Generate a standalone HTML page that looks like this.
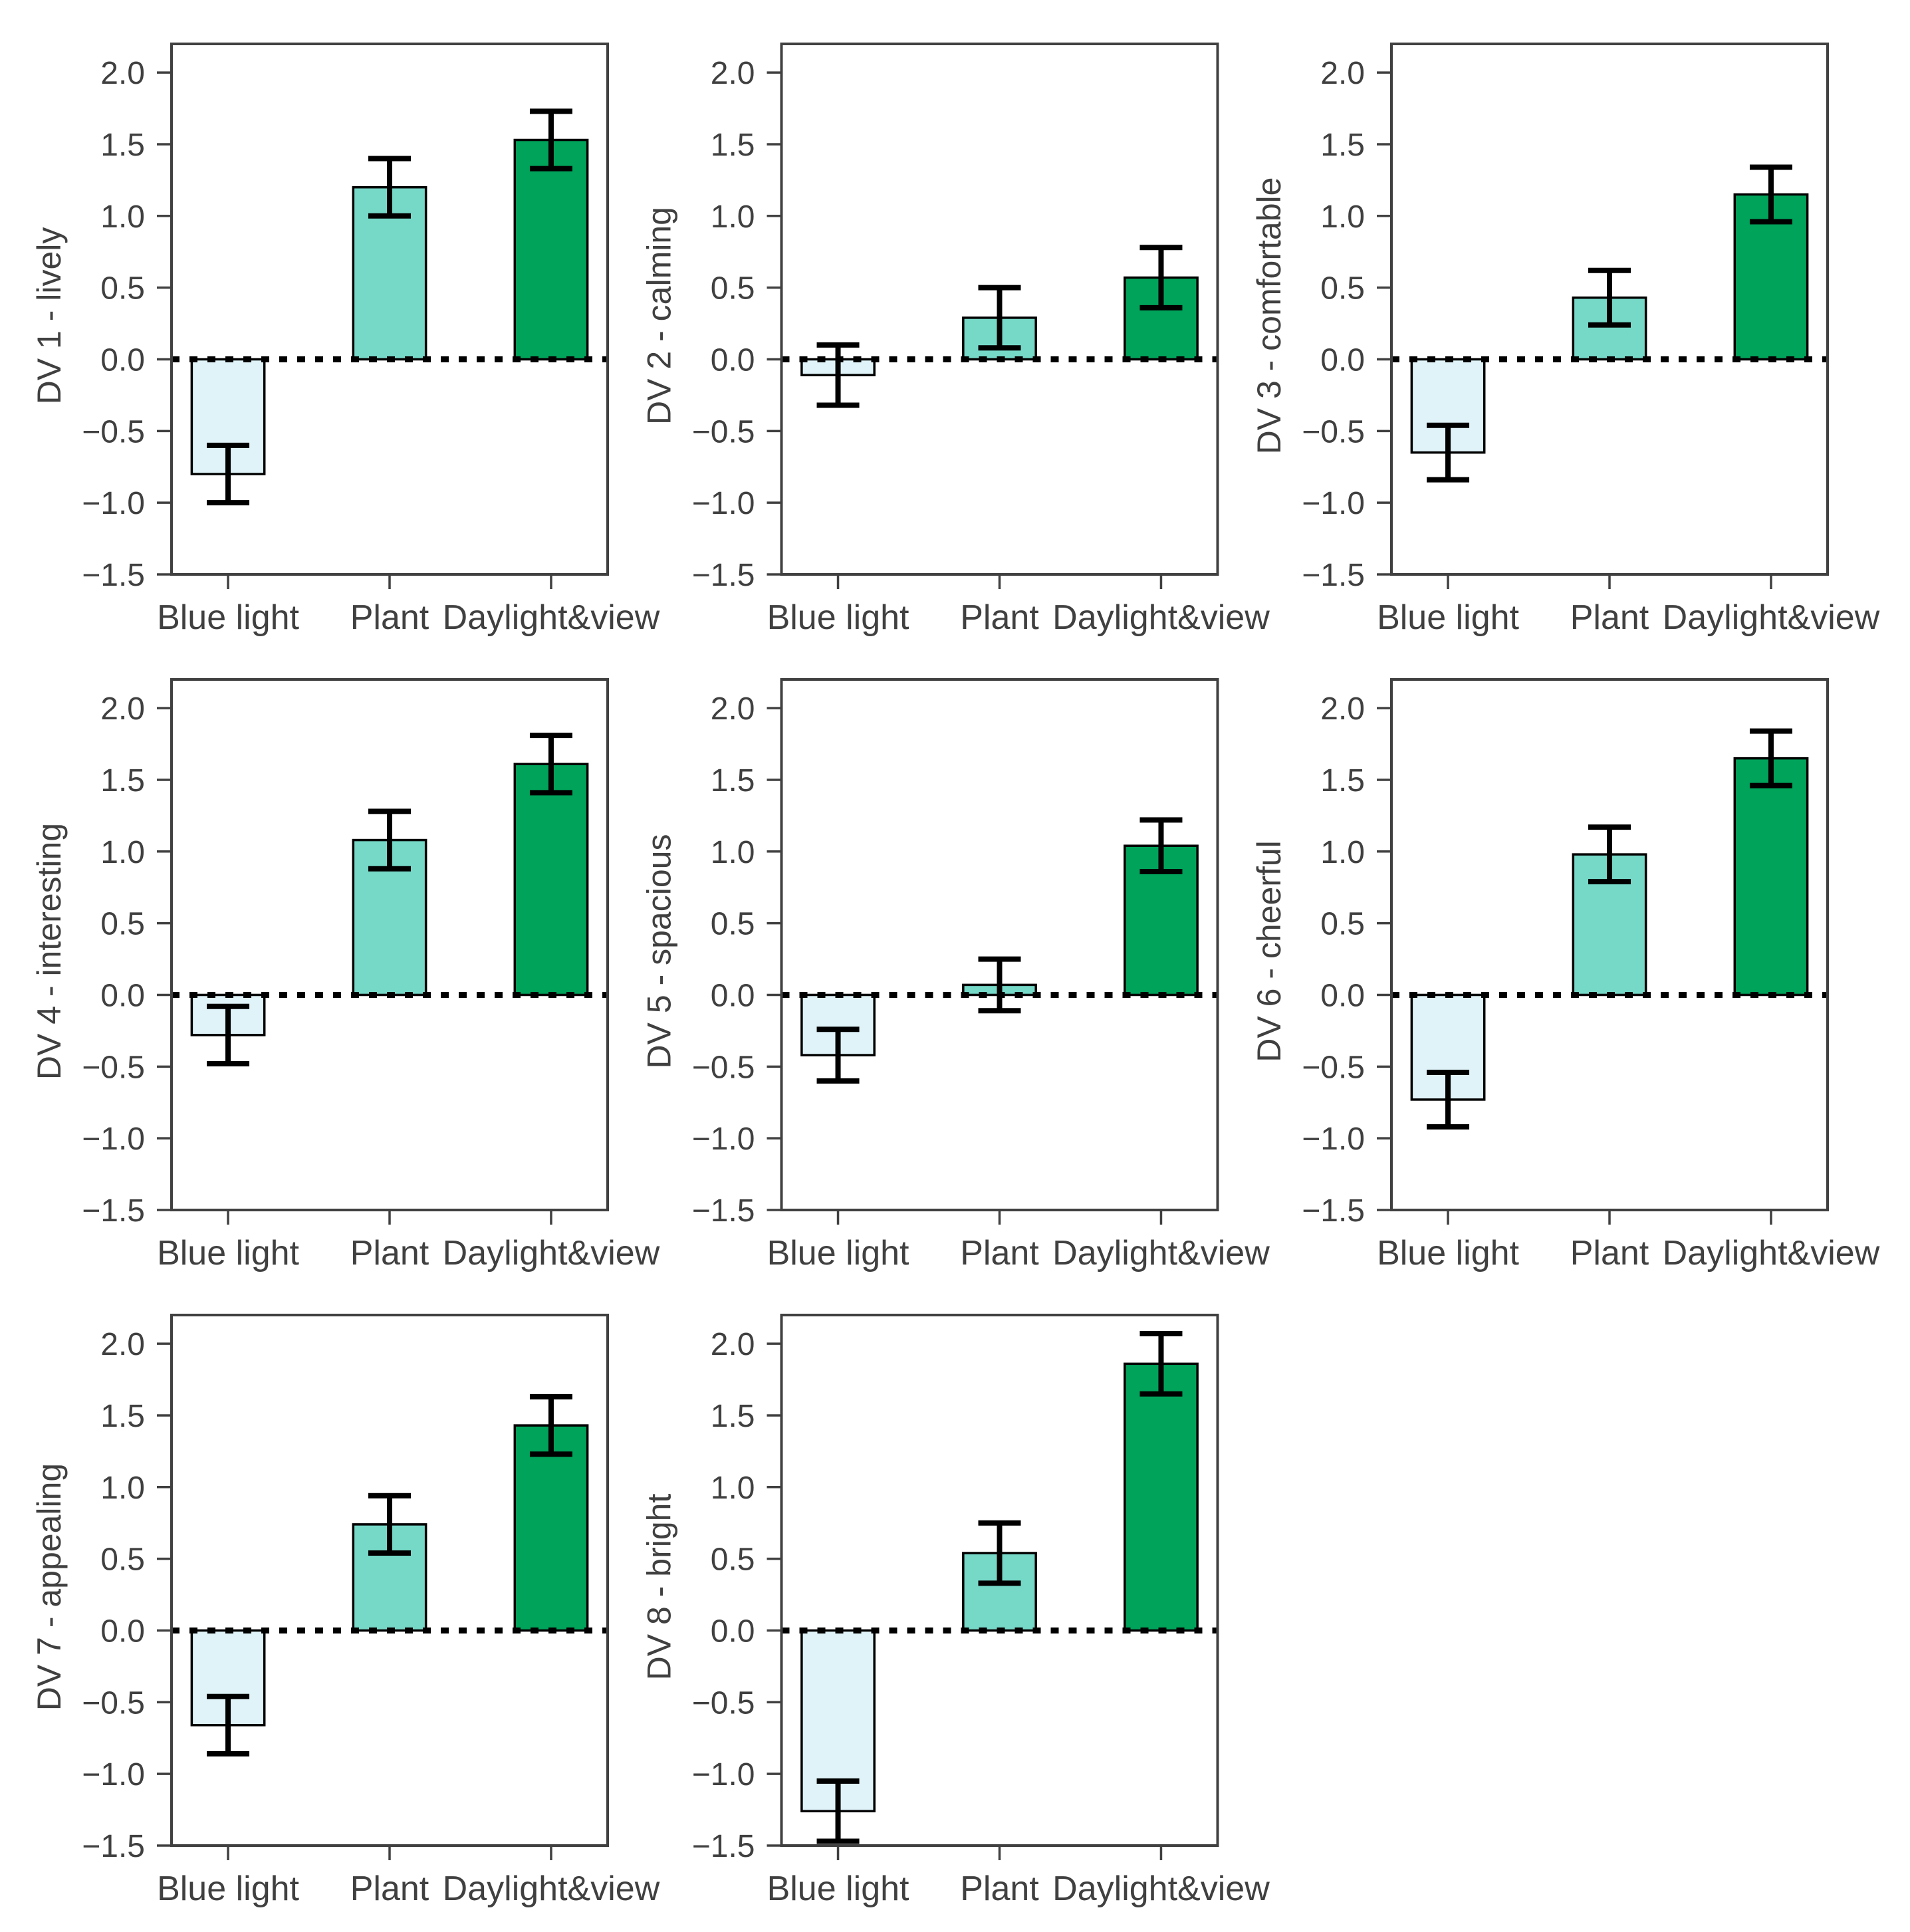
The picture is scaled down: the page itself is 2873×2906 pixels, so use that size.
<!DOCTYPE html>
<html><head><meta charset="utf-8"><style>
html,body{margin:0;padding:0;background:#fff;}
svg{display:block;}
text{font-family:"Liberation Sans",Arial,sans-serif;fill:#404040;}
</style></head><body>
<svg id="fig" width="2873" height="2906" viewBox="0 0 2873 2906" xmlns="http://www.w3.org/2000/svg"></svg>
<script>
const categories = ["Blue light", "Plant", "Daylight&view"];
const yLabels = ["DV 1 - lively","DV 2 - calming","DV 3 - comfortable","DV 4 - interesting","DV 5 - spacious","DV 6 - cheerful","DV 7 - appealing","DV 8 - bright"];
const blueMeans  = [-0.80, -0.11, -0.65, -0.28, -0.42, -0.73, -0.66, -1.26];
const plantMeans = [ 1.20,  0.29,  0.43,  1.08,  0.07,  0.98,  0.74,  0.54];
const dayMeans   = [ 1.53,  0.57,  1.15,  1.61,  1.04,  1.65,  1.43,  1.86];
const blueErr  = [0.20, 0.21, 0.19, 0.20, 0.18, 0.19, 0.20, 0.21];
const plantErr = [0.20, 0.21, 0.19, 0.20, 0.18, 0.19, 0.20, 0.21];
const dayErr   = [0.20, 0.21, 0.19, 0.20, 0.18, 0.19, 0.20, 0.21];
const yTicks = [-1.5, -1.0, -0.5, 0.0, 0.5, 1.0, 1.5, 2.0];

const colors = ["#dff3f8", "#76d9c8", "#00a35a"];
const NS = "http://www.w3.org/2000/svg";
const svg = document.getElementById("fig");
function mk(tag, attrs, parent){
  const e = document.createElementNS(NS, tag);
  for (const k in attrs) e.setAttribute(k, attrs[k]);
  (parent||svg).appendChild(e); return e;
}
const PW = 656, PH = 798;
const colX = [258, 1175.5, 2093], rowY = [66, 1022, 1978];
const yMin = -1.5, yMax = 2.2, xMin = -0.35, xMax = 2.35;

for (let p = 0; p < 8; p++) {
  const L = colX[p % 3], T = rowY[Math.floor(p / 3)];
  const g = mk("g", {});
  
  
  const sy = v => T + PH - (v - yMin) / (yMax - yMin) * PH;
  const sx = i => L + (i - xMin) / (xMax - xMin) * PW;
  const means = [blueMeans[p], plantMeans[p], dayMeans[p]];
  const errs = [blueErr[p], plantErr[p], dayErr[p]];
  const bw = 0.45 * (PW / (xMax - xMin));
  for (let i = 0; i < 3; i++) {
    const y0 = sy(0), y1 = sy(means[i]);
    const r = mk("rect", {x: sx(i) - bw / 2, y: Math.min(y0, y1), width: bw, height: Math.abs(y1 - y0), fill: colors[i], stroke: "#000", "stroke-width": 3.5}, g);
    
    
  }
  const zl = mk("line", {x1: L, x2: L + PW, y1: sy(0), y2: sy(0), stroke: "#000", "stroke-width": 9, "stroke-dasharray": "12 15"}, g);
  
  
  for (let i = 0; i < 3; i++) {
    const eg = mk("g", {stroke: "#000", "stroke-width": 8}, g);
    
    
    const x = sx(i), hi = sy(means[i] + errs[i]), lo = sy(means[i] - errs[i]);
    mk("line", {x1: x, x2: x, y1: hi, y2: lo}, eg);
    mk("line", {x1: x - 32, x2: x + 32, y1: hi, y2: hi}, eg);
    mk("line", {x1: x - 32, x2: x + 32, y1: lo, y2: lo}, eg);
  }
  const fr = mk("rect", {x: L, y: T, width: PW, height: PH, fill: "none", stroke: "#404040", "stroke-width": 4}, g);
  
  
  yTicks.forEach(v => {
    mk("line", {x1: L - 22, x2: L, y1: sy(v), y2: sy(v), stroke: "#404040", "stroke-width": 3.5}, g);
    const t = mk("text", {x: L - 40, y: sy(v) + 17, "text-anchor": "end", "font-size": 48}, g);
    t.textContent = (v < 0 ? "\u2212" : "") + Math.abs(v).toFixed(1);
    
    
  });
  categories.forEach((c, i) => {
    mk("line", {x1: sx(i), x2: sx(i), y1: T + PH, y2: T + PH + 22, stroke: "#404040", "stroke-width": 3.5}, g);
    const t = mk("text", {x: sx(i), y: T + PH + 82, "text-anchor": "middle", "font-size": 52}, g);
    t.textContent = c;
    
    
  });
  const yl = mk("text", {x: 0, y: 0, "text-anchor": "middle", "font-size": 50, transform: `translate(${L - 167},${T + PH / 2 + 10}) rotate(-90)`}, g);
  yl.textContent = yLabels[p];
  
  
}
</script>
</body></html>
